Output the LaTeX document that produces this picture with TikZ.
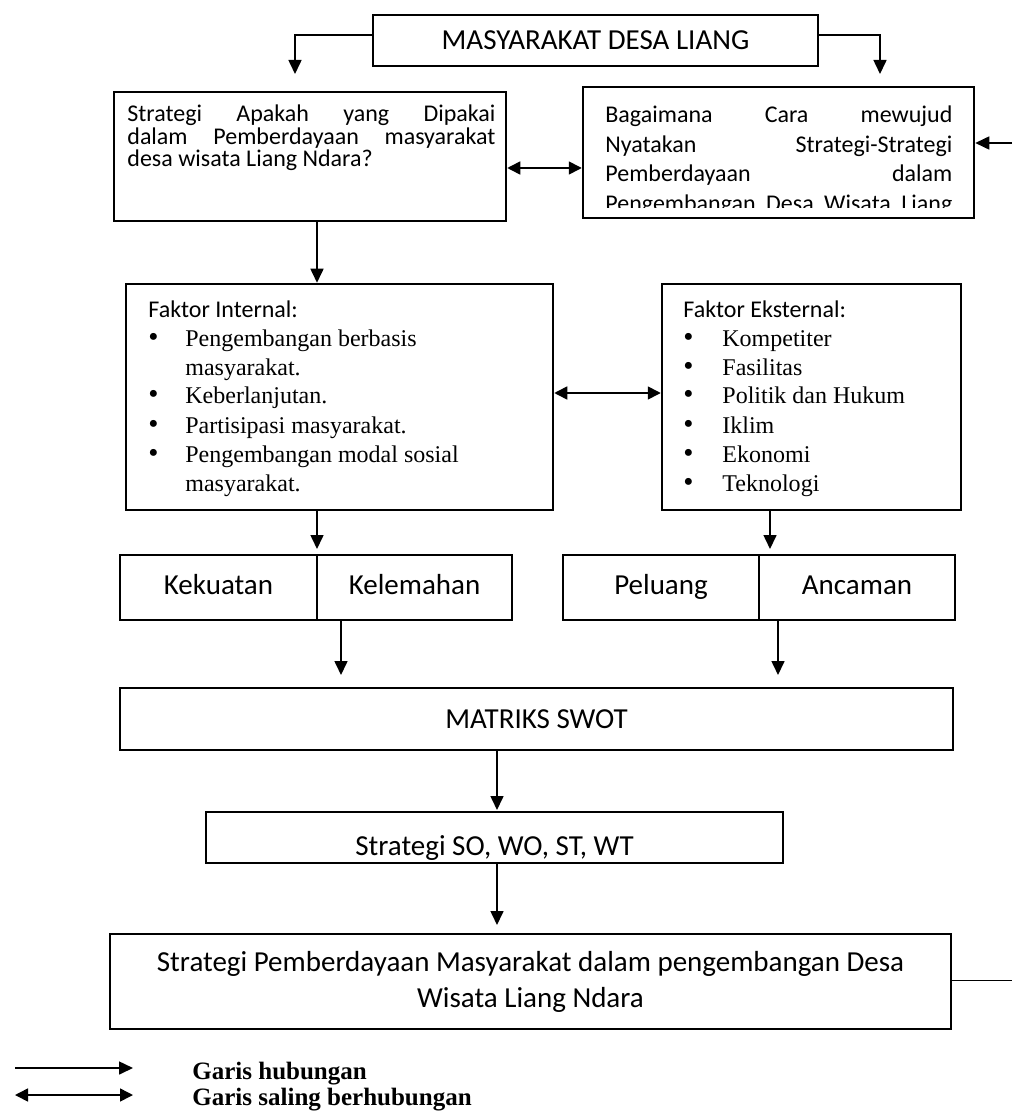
\documentclass[tikz,border=0pt]{standalone}
\usepackage{fontspec}
\setmainfont{Carlito}
\newfontfamily\tnr{Liberation Serif}
\usetikzlibrary{arrows.meta,calc}
\newlength\pxu \setlength\pxu{0.5pt}
\newcommand\bigbul{{\tnr\fontsize{14.5}{14.5}\selectfont\textbullet}}
\newcommand\bul[2][37]{\makebox[#1\pxu][l]{\bigbul}{\tnr #2}}
\newcommand\ind[2][37]{\hspace*{#1\pxu}{\tnr #2}}
\newcommand\jline[1]{\makebox[\linewidth][s]{#1}}
\newcommand\fixsp[1]{\spaceskip=0pt \xspaceskip=0pt \setlength\baselineskip{#1}}
\begin{document}
\begin{tikzpicture}[x=0.5pt,y=-0.5pt,
  box/.style={draw,line width=1.25pt,inner sep=0pt,align=center},
  sbox/.style={draw,line width=1pt,inner sep=0pt,text height=10pt,text depth=3pt,font=\fontsize{14.5}{17}\selectfont},
  arr/.style={line width=0.8pt,-{Triangle[length=7pt,width=6.5pt]}},
  darr/.style={line width=0.8pt,{Triangle[length=6.5pt,width=6.5pt]}-{Triangle[length=6.5pt,width=6.5pt]}},
  thinline/.style={line width=0.5pt},
  bigtext/.style={font=\fontsize{14.5}{18}\selectfont}]
\useasboundingbox (0,0) rectangle (1012,1117);

% title
\node[box,minimum width=222.5pt,minimum height=25.5pt,font=\fontsize{14.5}{17}\selectfont] (T) at (595.5,40.5) {MASYARAKAT DESA LIANG};
\coordinate (ty) at (0,35);
\coordinate (tl) at (295,74);
\coordinate (tr) at (880,74);
\draw[arr] (T.west|-ty) -| (tl);
\draw[arr] (T.east|-ty) -| (tr);

% box A
\node[box,minimum width=196pt,minimum height=64.5pt] (A) at (310,156.5) {};
\node[anchor=base west,inner sep=0pt,text width=184pt,align=left,font=\fontsize{12}{11.25}\selectfont] (Atext) at (127,122)
  {\fixsp{11.25pt}\jline{Strategi Apakah yang Dipakai}\\
   \jline{dalam Pemberdayaan masyarakat}\\
   desa wisata Liang Ndara?};

% box B
\node[box,minimum width=195.5pt,minimum height=65.5pt] (B) at (778.5,152.5) {};
\begin{scope}
  \clip (583,87) rectangle (974,208);
  \node[anchor=base west,inner sep=0pt,text width=173.5pt,align=left,font=\fontsize{12}{14.75}\selectfont] (Btext) at (605,123)
    {\fixsp{14.75pt}\jline{Bagaimana Cara mewujud}\\
     \jline{Nyatakan Strategi-Strategi}\\
     \jline{Pemberdayaan dalam}\\
     \jline{Pengembangan Desa Wisata Liang}};
\end{scope}

\coordinate (yab) at (0,168);
\draw[darr] (A.east|-yab) -- (B.west|-yab);
\coordinate (bin) at (1012,143);
\draw[arr] (bin) -- (bin-|B.east);

% box C and D
\node[box,minimum width=213.5pt,minimum height=113pt] (C) at (339.5,397) {};
\node[box,minimum width=149.5pt,minimum height=113pt] (D) at (811.5,397) {};
\node[anchor=base west,inner sep=0pt,text width=195pt,align=left,font=\fontsize{12}{14.5}\selectfont] (Ctext) at (148,317)
  {\fixsp{14.5pt}Faktor Internal:\\
   \bul{Pengembangan berbasis}\\
   \ind{masyarakat.}\\
   \bul{Keberlanjutan.}\\
   \bul{Partisipasi masyarakat.}\\
   \bul{Pengembangan modal sosial}\\
   \ind{masyarakat.}};
\node[anchor=base west,inner sep=0pt,text width=135pt,align=left,font=\fontsize{12}{14.5}\selectfont] (Dtext) at (683,317)
  {\fixsp{14.5pt}Faktor Eksternal:\\
   \bul[39]{Kompetiter}\\
   \bul[39]{Fasilitas}\\
   \bul[39]{Politik dan Hukum}\\
   \bul[39]{Iklim}\\
   \bul[39]{Ekonomi}\\
   \bul[39]{Teknologi}};

\coordinate (xac) at (317,0);
\draw[arr] (A.south-|xac) -- (C.north-|xac);
\coordinate (ycd) at (0,393);
\draw[darr] (C.east|-ycd) -- (D.west|-ycd);

% SWOT halves
\node[sbox,minimum width=98.5pt,minimum height=32.5pt] (K1) at (218.5,587.5) {Kekuatan};
\node[sbox,minimum width=97.5pt,minimum height=32.5pt] (K2) at (414.5,587.5) {Kelemahan};
\node[sbox,minimum width=98pt,minimum height=32.5pt] (P1) at (661,587.5) {Peluang};
\node[sbox,minimum width=98pt,minimum height=32.5pt] (P2) at (857,587.5) {Ancaman};

\coordinate (ck) at (317,549);
\draw[arr] (C.south-|ck) -- (ck);
\coordinate (dp) at (770,549);
\draw[arr] (D.south-|dp) -- (dp);

% matrix
\node[box,minimum width=416.5pt,minimum height=31pt,bigtext] (M) at (536.5,719) {MATRIKS SWOT};
\coordinate (km) at (341,675);
\draw[arr] (K2.south-|km) -- (km);
\coordinate (pm) at (778,675);
\draw[arr] (P2.south-|pm) -- (pm);

% strategies
\node[box,minimum width=288.5pt,minimum height=25.5pt] (S) at (494.5,837.5) {};
\node[anchor=base,inner sep=0pt,bigtext] (Stext) at (494.5,855) {Strategi SO, WO, ST, WT};
\coordinate (ms) at (497,810);
\draw[arr] (M.south-|ms) -- (ms);

\node[box,minimum width=420.5pt,minimum height=47.5pt,bigtext] (Bot) at (530.5,981.5)
  {Strategi Pemberdayaan Masyarakat dalam pengembangan Desa\\Wisata Liang Ndara};
\coordinate (sb) at (497,925);
\draw[arr] (S.south-|sb) -- (sb);
\coordinate (be) at (1012,980);
\draw[thinline] (Bot.east|-be) -- (be);

% legend
\coordinate (l1a) at (15,1068);
\coordinate (l1b) at (133,1068);
\draw[arr] (l1a) -- (l1b);
\coordinate (l2a) at (15,1095);
\coordinate (l2b) at (133,1095);
\draw[darr] (l2a) -- (l2b);
\node[anchor=base west,inner sep=0pt,font={\tnr\bfseries\fontsize{12.5}{14}\selectfont}] (L1) at (192,1079) {Garis hubungan};
\node[anchor=base west,inner sep=0pt,font={\tnr\bfseries\fontsize{12.5}{14}\selectfont}] (L2) at (192,1105) {Garis saling berhubungan};
\end{tikzpicture}
\end{document}
